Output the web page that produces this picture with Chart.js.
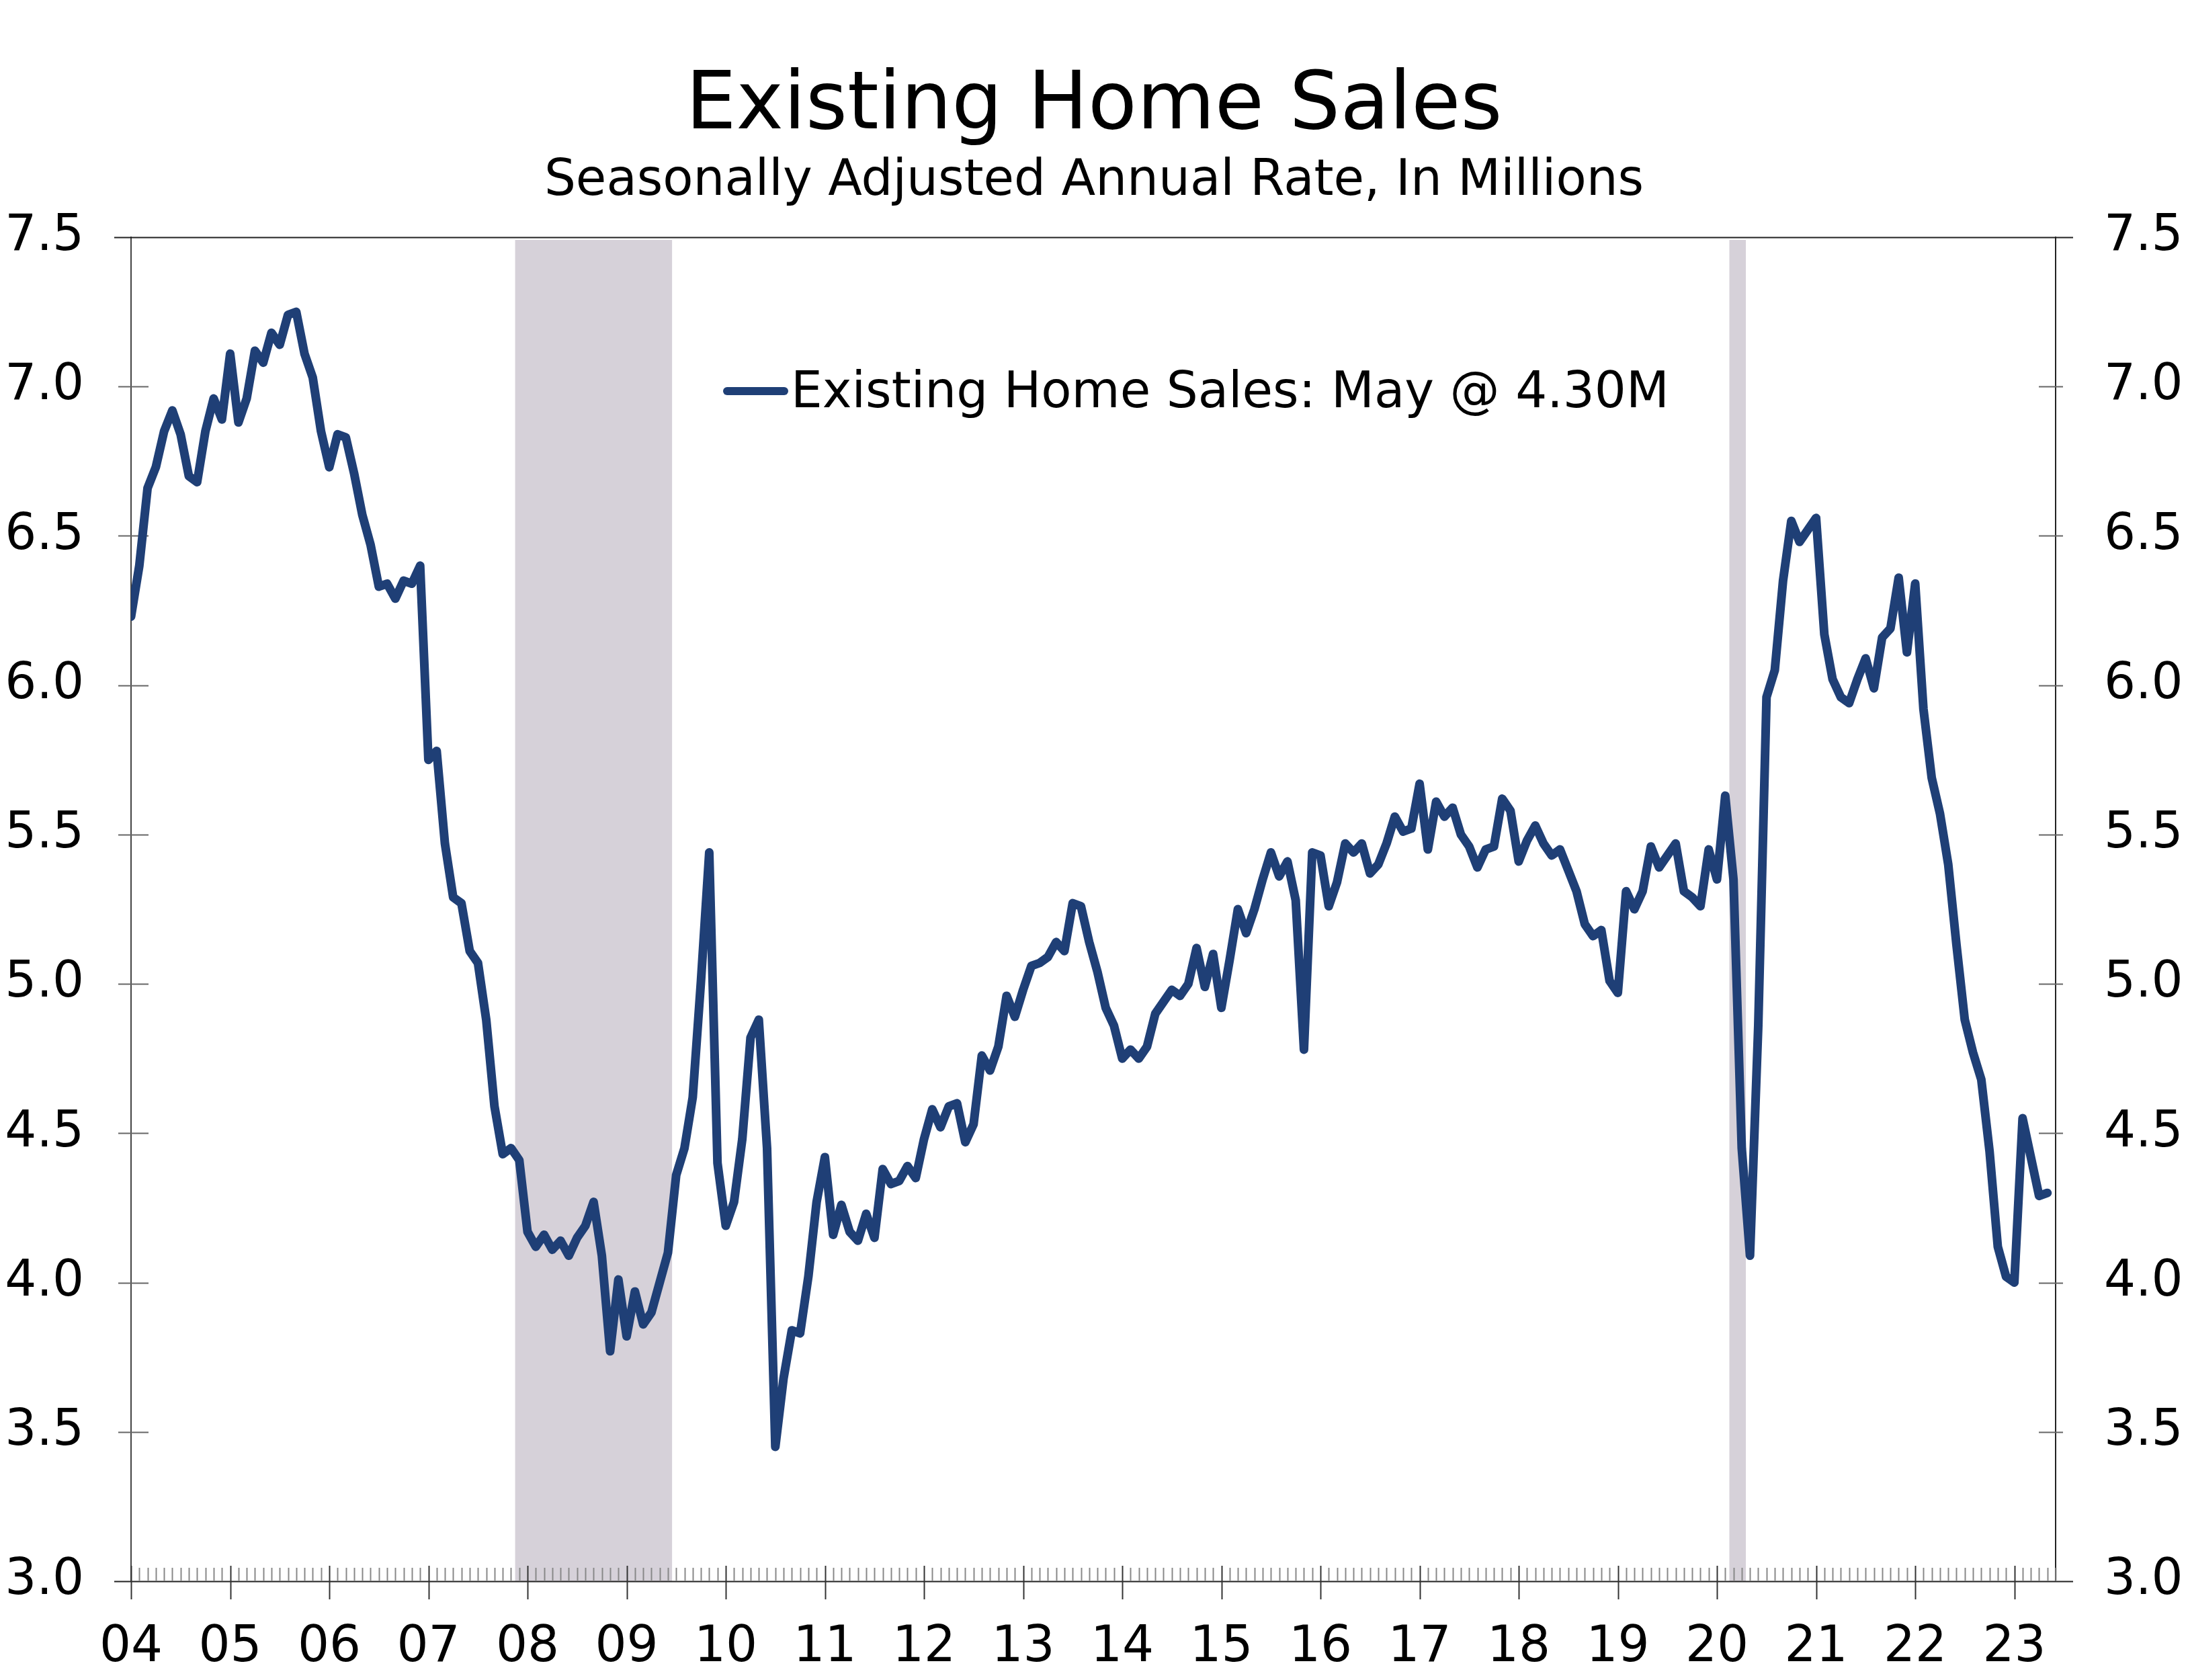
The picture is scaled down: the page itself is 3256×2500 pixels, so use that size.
<!DOCTYPE html>
<html>
<head>
<meta charset="utf-8">
<title>Existing Home Sales</title>
<script src="https://cdn.jsdelivr.net/npm/chart.js@4.4.0/dist/chart.umd.min.js"></script>
<style>
  html, body { margin: 0; padding: 0; background: #ffffff; }
  canvas { display: block; }
</style>
</head>
<body>
<canvas id="chart" width="3256" height="2500"></canvas>
<script>
// Existing home sales, seasonally adjusted annual rate, millions (monthly)
const sales2004 = [6.23, 6.40, 6.66, 6.73, 6.85, 6.92, 6.84, 6.70, 6.68, 6.85, 6.96, 6.89];
const sales2005 = [7.11, 6.88, 6.96, 7.12, 7.08, 7.18, 7.14, 7.24, 7.25, 7.11, 7.03, 6.85];
const sales2006 = [6.73, 6.84, 6.83, 6.71, 6.57, 6.47, 6.33, 6.34, 6.29, 6.35, 6.34, 6.40];
const sales2007 = [5.75, 5.78, 5.47, 5.29, 5.27, 5.11, 5.07, 4.88, 4.59, 4.43, 4.45, 4.41];
const sales2008 = [4.17, 4.12, 4.16, 4.11, 4.14, 4.09, 4.15, 4.19, 4.27, 4.09, 3.77, 4.01];
const sales2009 = [3.82, 3.97, 3.86, 3.90, 4.00, 4.10, 4.36, 4.45, 4.62, 5.01, 5.44, 4.40];
const sales2010 = [4.19, 4.27, 4.48, 4.82, 4.88, 4.45, 3.45, 3.68, 3.84, 3.83, 4.02, 4.27];
const sales2011 = [4.42, 4.16, 4.26, 4.17, 4.14, 4.23, 4.15, 4.38, 4.33, 4.34, 4.39, 4.35];
const sales2012 = [4.48, 4.58, 4.52, 4.59, 4.60, 4.47, 4.53, 4.76, 4.71, 4.79, 4.96, 4.89];
const sales2013 = [4.98, 5.06, 5.07, 5.09, 5.14, 5.11, 5.27, 5.26, 5.14, 5.04, 4.92, 4.86];
const sales2014 = [4.75, 4.78, 4.75, 4.79, 4.90, 4.94, 4.98, 4.96, 5.00, 5.12, 4.99, 5.10];
const sales2015 = [4.92, 5.08, 5.25, 5.17, 5.25, 5.35, 5.44, 5.36, 5.41, 5.28, 4.78, 5.44];
const sales2016 = [5.43, 5.26, 5.34, 5.47, 5.44, 5.47, 5.37, 5.40, 5.47, 5.56, 5.51, 5.52];
const sales2017 = [5.67, 5.45, 5.61, 5.56, 5.59, 5.50, 5.46, 5.39, 5.45, 5.46, 5.62, 5.58];
const sales2018 = [5.41, 5.48, 5.53, 5.47, 5.43, 5.45, 5.38, 5.31, 5.20, 5.16, 5.18, 5.01];
const sales2019 = [4.97, 5.31, 5.25, 5.31, 5.46, 5.39, 5.43, 5.47, 5.31, 5.29, 5.26, 5.45];
const sales2020 = [5.35, 5.63, 5.35, 4.45, 4.09, 4.86, 5.96, 6.05, 6.35, 6.55, 6.48, 6.52];
const sales2021 = [6.56, 6.17, 6.02, 5.96, 5.94, 6.02, 6.09, 5.99, 6.16, 6.19, 6.36, 6.11];
const sales2022 = [6.34, 5.92, 5.69, 5.57, 5.40, 5.13, 4.88, 4.77, 4.68, 4.44, 4.12, 4.02];
const sales2023 = [4.00, 4.55, 4.42, 4.29, 4.30];

// Year tick labels, one per January starting 2004
const yearLabels = ['04', '05', '06', '07', '08', '09', '10', '11', '12', '13',
                    '14', '15', '16', '17', '18', '19', '20', '21', '22', '23'];

// Recessions as month indexes from Jan 2004 (Dec 2007 - Jun 2009, Mar 2020 - Apr 2020)
const recessionStarts = [47, 194];
const recessionEnds = [65, 195];

const titleText = 'Existing Home Sales';
const subtitleText = 'Seasonally Adjusted Annual Rate, In Millions';
const legendText = 'Existing Home Sales: May @ 4.30M';

const FONT = '"DejaVu Sans", Verdana, sans-serif';
const LINE_COLOR = '#1f3f76';
const BAND_COLOR = '#d6d1d9';

const salesValues = [].concat(
    sales2004, sales2005, sales2006, sales2007, sales2008, sales2009, sales2010,
    sales2011, sales2012, sales2013, sales2014, sales2015, sales2016, sales2017,
    sales2018, sales2019, sales2020, sales2021, sales2022, sales2023
);
const salesPoints = salesValues.map((v, i) => ({ x: i, y: v }));

// Shaded recession bars plus the axis frame and tick marks
const framePlugin = {
    id: 'frame',
    beforeDatasetsDraw(chart) {
        const { ctx, chartArea, scales } = chart;
        const x = scales.x;
        const y = scales.y;
        ctx.save();

        // recession bands
        ctx.fillStyle = BAND_COLOR;
        recessionStarts.forEach((start, i) => {
            const x0 = x.getPixelForValue(start - 0.5);
            const x1 = x.getPixelForValue(recessionEnds[i] + 0.5);
            ctx.fillRect(x0, chartArea.top + 4, x1 - x0, chartArea.bottom - chartArea.top - 4);
        });

        // horizontal lines at the top and bottom of the range
        ctx.strokeStyle = '#222';
        ctx.lineWidth = 2;
        [y.max, y.min].forEach(v => {
            const py = Math.round(y.getPixelForValue(v)) + 0.5;
            ctx.beginPath();
            ctx.moveTo(chartArea.left - 25, py);
            ctx.lineTo(chartArea.right + 26, py);
            ctx.stroke();
        });

        // y tick marks on both axes
        ctx.strokeStyle = '#666';
        for (let v = y.min + 0.5; v < y.max; v += 0.5) {
            const py = Math.round(y.getPixelForValue(v)) + 0.5;
            ctx.beginPath();
            ctx.moveTo(chartArea.left - 19, py);
            ctx.lineTo(chartArea.left + 26, py);
            ctx.moveTo(chartArea.right - 25, py);
            ctx.lineTo(chartArea.right + 11, py);
            ctx.stroke();
        }

        // monthly minor ticks and yearly major ticks on the x axis
        for (let i = x.min; i <= x.max; i++) {
            const px = Math.round(x.getPixelForValue(i)) + 0.5;
            ctx.beginPath();
            if (i % 12 === 0) {
                ctx.strokeStyle = '#333';
                ctx.lineWidth = 2;
                ctx.moveTo(px, chartArea.bottom - 23);
                ctx.lineTo(px, chartArea.bottom + 27);
            } else {
                ctx.strokeStyle = '#888';
                ctx.lineWidth = 2;
                ctx.moveTo(px, chartArea.bottom - 20);
                ctx.lineTo(px, chartArea.bottom);
            }
            ctx.stroke();
        }
        ctx.restore();
    },
    afterDraw(chart) {
        const ctx = chart.ctx;
        const cx = chart.width / 2;
        ctx.save();
        ctx.fillStyle = '#000';
        ctx.textAlign = 'center';
        ctx.textBaseline = 'alphabetic';
        ctx.font = `119px ${FONT}`;
        ctx.fillText(titleText, cx, 191);
        ctx.font = `74px ${FONT}`;
        ctx.fillText(subtitleText, cx, 290);

        // legend inside the plot
        ctx.strokeStyle = LINE_COLOR;
        ctx.lineWidth = 12;
        ctx.lineCap = 'round';
        ctx.beginPath();
        ctx.moveTo(1082, 582);
        ctx.lineTo(1167, 582);
        ctx.stroke();
        ctx.textAlign = 'left';
        ctx.font = `74px ${FONT}`;
        ctx.fillText(chart.data.datasets[0].label, 1177, 606);
        ctx.restore();
    }
};

const yTickOptions = (padding) => ({
    color: '#000',
    padding: padding,
    stepSize: 0.5,
    font: { family: FONT, size: 74 },
    callback: value => value.toFixed(1)
});

new Chart(document.getElementById('chart'), {
    type: 'line',
    data: {
        datasets: [{
            label: legendText,
            data: salesPoints,
            borderColor: LINE_COLOR,
            borderWidth: 13,
            borderJoinStyle: 'round',
            borderCapStyle: 'round',
            pointRadius: 0,
            tension: 0,
            yAxisID: 'y'
        }]
    },
    options: {
        responsive: false,
        devicePixelRatio: 1,
        animation: false,
        layout: { padding: { top: 353, left: 0, right: 0, bottom: 0 } },
        plugins: {
            legend: { display: false },
            title: { display: false },
            tooltip: { enabled: false }
        },
        scales: {
            x: {
                type: 'linear',
                min: 0,
                max: 233,
                grid: { display: false, drawTicks: false, tickLength: 0 },
                border: { display: false },
                ticks: {
                    autoSkip: false,
                    maxRotation: 0,
                    padding: 55,
                    color: '#000',
                    font: { family: FONT, size: 74 },
                    callback: value => yearLabels[value / 12]
                },
                // one label per January, none at the right edge
                afterBuildTicks: scale => {
                    scale.ticks = yearLabels.map((label, i) => ({ value: i * 12 }));
                },
                afterFit: scale => { scale.height = 147; }
            },
            y: {
                position: 'left',
                min: 3.0,
                max: 7.5,
                grid: { display: false, drawTicks: false, tickLength: 0 },
                border: { display: true, color: '#444', width: 2 },
                ticks: yTickOptions(70),
                afterFit: scale => { scale.width = 195; }
            },
            y2: {
                position: 'right',
                display: true,
                min: 3.0,
                max: 7.5,
                grid: { display: false, drawTicks: false, tickLength: 0 },
                border: { display: true, color: '#222', width: 2 },
                ticks: yTickOptions(72),
                afterFit: scale => { scale.width = 197; }
            }
        }
    },
    plugins: [framePlugin]
});
</script>
</body>
</html>
